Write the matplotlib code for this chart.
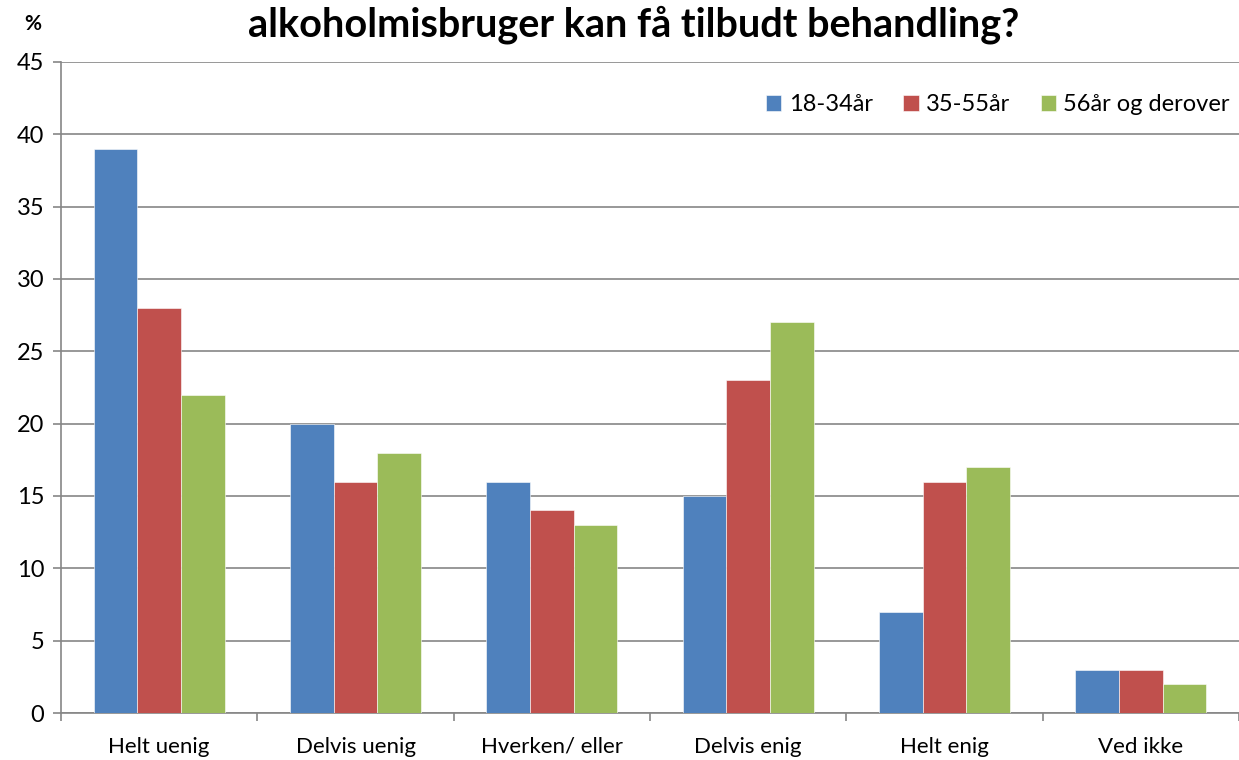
import matplotlib
matplotlib.use("Agg")
import matplotlib.pyplot as plt
import numpy as np

plt.rcParams['font.family'] = ['Lato', 'DejaVu Sans']

categories = ["Helt uenig", "Delvis uenig", "Hverken/ eller", "Delvis enig", "Helt enig", "Ved ikke"]
series_names = ["18-34år", "35-55år", "56år og derover"]
v_18_34 = [39, 20, 16, 15, 7, 3]
v_35_55 = [28, 16, 14, 23, 16, 3]
v_56_up = [22, 18, 13, 27, 17, 2]
colors = ["#4F81BD", "#C0504D", "#9BBB59"]
yticks = [0, 5, 10, 15, 20, 25, 30, 35, 40, 45]

fig = plt.figure(figsize=(12.39, 7.60), dpi=100)
ax = fig.add_axes([61 / 1239, 1 - 713 / 760, 1 - 61 / 1239, (713 - 62) / 760])

x = np.arange(len(categories))
w = 0.222
for i, (vals, name, c) in enumerate(zip([v_18_34, v_35_55, v_56_up], series_names, colors)):
    ax.bar(x + (i - 1) * w, vals, width=w, color=c, label=name, zorder=3,
           edgecolor="white", linewidth=0.4)

ax.set_xlim(-0.5, len(categories) - 0.5)
ax.set_ylim(0, 45)
ax.set_yticks(yticks)
ax.set_yticklabels([str(t) for t in yticks], fontsize=17)
ax.yaxis.grid(True, color="#868686", linewidth=1.2, zorder=0)
ax.set_axisbelow(True)

# category boundaries carry the x ticks; labels sit at the centres
ax.set_xticks(np.arange(-0.5, len(categories), 1.0))
ax.set_xticklabels([])
ax.set_xticks(x, minor=True)
ax.set_xticklabels(categories, minor=True, fontsize=16)
ax.tick_params(axis="x", which="minor", length=0, pad=17)
ax.tick_params(axis="x", which="major", length=6, color="#868686", width=1.2)
ax.tick_params(axis="y", length=6, color="#868686", width=1.2, pad=6)

for side in ["top", "right"]:
    ax.spines[side].set_visible(False)
for side in ["left", "bottom"]:
    ax.spines[side].set_color("#868686")
    ax.spines[side].set_linewidth(1.2)

leg = ax.legend(loc="upper right", bbox_to_anchor=(1.0, 0.965), ncol=3, frameon=False,
                fontsize=17, handlelength=0.65, handleheight=0.65, handletextpad=0.3,
                columnspacing=1.3, borderaxespad=0.0)

fig.text(634 / 1239, 1 - 25 / 760, "alkoholmisbruger kan få tilbudt behandling?", ha="center",
         va="center", fontsize=28.5, fontweight="bold")
fig.text(33 / 1239, 1 - 24 / 760, "%", ha="center", va="center", fontsize=15, fontweight="bold")

fig.savefig("out.png", dpi=100)
